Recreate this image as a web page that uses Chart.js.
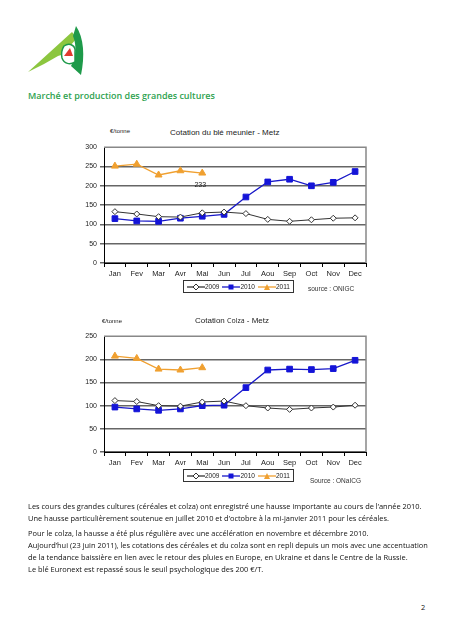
<!DOCTYPE html>
<html lang="fr">
<head>
<meta charset="UTF-8">
<title>Marché et production des grandes cultures</title>
<script src="https://cdn.jsdelivr.net/npm/chart.js"></script>
<style>
  body { margin: 0; width: 453px; height: 640px; background: #fff; position: relative; overflow: hidden; font-family: "Liberation Sans", Arial, sans-serif; }
  .abs { position: absolute; white-space: nowrap; }
  .title { left: 28px; top: 89px; font-family: "Open Sans", sans-serif; font-weight: 600; font-size: 9px; color: #2ea24f; }
  .ctitle { font-size: 8px; color: #222; }
  .unit { font-size: 6px; color: #222; }
  .src { font-size: 6.5px; color: #333; }
  .legend { border: 1px solid #333; height: 11px; font-size: 6.5px; color: #222; display: flex; align-items: center; padding: 0 3px; gap: 3px; }
  .legend span { display: inline-flex; align-items: center; }
  .txt { left: 28px; font-family: "Open Sans", sans-serif; font-size: 7.45px; color: #111; line-height: 12px; }
  .box { position: absolute; left: 60px; width: 320px; height: 142px; }
</style>
</head>
<body>

<!-- logo -->
<svg class="abs" style="left:20px;top:20px" width="70" height="62" viewBox="0 0 70 62">
  <polygon points="8,52 52,12 57,18 50,26 44,34 38,36 24,44" fill="#8cc63f"/>
  <path d="M56,6 C64,18 65,36 61,55 L51,46 C56,38 57,26 53,16 Z" fill="#1e9a4a"/>
  <path d="M44,26 C50,22 56,26 55,32 L55,42 C50,45 44,44 42,38 C41,33 42,29 44,26 Z" fill="#fff" stroke="#1e9a4a" stroke-width="1.5"/>
  <polygon points="44,36 50,28 53,36" fill="#e03a2f"/>
</svg>

<div class="abs title">Marché et production des grandes cultures</div>

<!-- chart 1 -->
<div class="abs unit" style="left:110px;top:128px">€/tonne</div>
<div class="abs ctitle" style="left:170px;top:128px">Cotation du blé meunier  - Metz</div>
<div class="box" style="top:140px"><canvas id="c1"></canvas></div>
<div class="abs legend" style="left:183px;top:280px" id="leg1"></div>
<div class="abs src" style="left:308px;top:285px">source : ONIGC</div>

<!-- chart 2 -->
<div class="abs unit" style="left:102px;top:318px">€/tonne</div>
<div class="abs ctitle" style="left:195px;top:316px">Cotation <span style="font-family:'Open Sans';font-size:7px">Colza</span> - Metz</div>
<div class="box" style="top:329px"><canvas id="c2"></canvas></div>
<div class="abs legend" style="left:183px;top:469px" id="leg2"></div>
<div class="abs src" style="left:310px;top:477px">Source : ONaICG</div>

<div class="abs txt" style="top:500px">Les cours des grandes cultures (céréales et colza) ont enregistré une hausse importante au cours de l’année 2010.<br>Une hausse particulièrement soutenue en juillet 2010 et d’octobre à la mi-janvier 2011 pour les céréales.</div>
<div class="abs txt" style="top:527px">Pour le colza, la hausse a été plus régulière avec une accélération en novembre et décembre 2010.<br>Aujourd’hui (23 juin 2011), les cotations des céréales et du colza sont en repli depuis un mois avec une accentuation<br>de la tendance baissière en lien avec le retour des pluies en Europe, en Ukraine et dans le Centre de la Russie.<br>Le blé Euronext est repassé sous le seuil psychologique des 200 €/T.</div>
<div class="abs txt" style="left:421px;top:601px">2</div>

<script>
const months = ['Jan', 'Fev', 'Mar', 'Avr', 'Mai', 'Jun', 'Jul', 'Aou', 'Sep', 'Oct', 'Nov', 'Dec'];
const seriesNames = ['2009', '2010', '2011'];

// blé meunier
const ble2009 = [133, 127, 120, 119, 130, 132, 128, 113, 108, 112, 116, 117];
const ble2010 = [115, 109, 108, 116, 121, 126, 171, 210, 217, 200, 209, 237];
const ble2011 = [251, 256, 228, 239, 233];
const bleTicks = [0, 50, 100, 150, 200, 250, 300];

// colza
const colza2009 = [111, 109, 100, 99, 108, 110, 100, 95, 92, 95, 97, 101];
const colza2010 = [97, 93, 90, 93, 100, 101, 139, 177, 179, 178, 180, 198];
const colza2011 = [207, 202, 179, 177, 182];
const colzaTicks = [0, 50, 100, 150, 200, 250];

const styles = [
    { color: '#333', fill: '#fff', point: 'rectRot', radius: 3, width: 1 },
    { color: '#1818c8', fill: '#1414d8', point: 'rect', radius: 4, width: 1.3 },
    { color: '#f0a030', fill: '#f0a030', point: 'triangle', radius: 4, width: 1.3 }
];

// top + right border of the plot area in gray
const frame = {
    id: 'frame',
    afterDraw(chart) {
        const a = chart.chartArea, c = chart.ctx;
        c.save();
        c.strokeStyle = '#888';
        c.lineWidth = 1.5;
        c.beginPath();
        c.moveTo(a.left, a.top);
        c.lineTo(a.right, a.top);
        c.lineTo(a.right, a.bottom);
        c.stroke();
        c.restore();
    }
};

// "233" label under last 2011 point (blé only)
const lastLabel = {
    id: 'lastLabel',
    afterDatasetsDraw(chart, args, opts) {
        if (!opts.show) return;
        const meta = chart.getDatasetMeta(2);
        const p = meta.data[meta.data.length - 1];
        const v = chart.data.datasets[2].data[meta.data.length - 1];
        const c = chart.ctx;
        c.save();
        c.font = '7px "Liberation Sans", Arial';
        c.fillStyle = '#222';
        c.textAlign = 'center';
        c.fillText(String(v), p.x - 2, p.y + 14);
        c.restore();
    }
};

function makeChart(id, data, ticks, showLabel) {
    const max = ticks[ticks.length - 1];
    return new Chart(document.getElementById(id), {
        type: 'line',
        data: {
            labels: months,
            datasets: data.map((d, i) => ({
                label: seriesNames[i],
                data: d,
                borderColor: styles[i].color,
                borderWidth: styles[i].width,
                backgroundColor: styles[i].fill,
                pointStyle: styles[i].point,
                pointRadius: styles[i].radius,
                pointBorderColor: i === 0 ? '#333' : styles[i].fill,
                pointBorderWidth: 1,
                tension: 0
            }))
        },
        options: {
            responsive: true,
            maintainAspectRatio: false,
            animation: false,
            layout: { padding: { top: 5, right: 14, left: 0, bottom: 0 } },
            plugins: { legend: { display: false }, tooltip: { enabled: false }, lastLabel: { show: showLabel } },
            scales: {
                x: {
                    offset: true,
                    grid: { drawOnChartArea: false, drawTicks: true, tickLength: 4, color: '#000', offset: true },
                    border: { color: '#000', width: 1 },
                    ticks: { color: '#222', font: { size: 7.5, family: '"Liberation Sans", Arial' }, padding: 2, maxRotation: 0, autoSkip: false },
                    afterFit(s) { s.height = 19; }
                },
                y: {
                    min: 0, max: max,
                    afterBuildTicks(s) { s.ticks = ticks.map(v => ({ value: v })); },
                    grid: { color: ctx => (ctx.tick && ctx.tick.value === max) ? 'rgba(0,0,0,0)' : '#666', lineWidth: 1.5, drawTicks: true, tickLength: 4 },
                    border: { color: '#000', width: 1 },
                    ticks: { color: '#222', font: { size: 7, family: '"Liberation Sans", Arial' }, padding: 3 },
                    afterFit(s) { s.width = 44; }
                }
            }
        },
        plugins: [frame, lastLabel]
    });
}

makeChart('c1', [ble2009, ble2010, ble2011], bleTicks, true);
makeChart('c2', [colza2009, colza2010, colza2011], colzaTicks, false);

// HTML legends
function legendSample(s) {
    let mark;
    if (s.point === 'rectRot') mark = '<polygon points="9,1 12,4 9,7 6,4" fill="#fff" stroke="#333" stroke-width="1"/>';
    else if (s.point === 'rect') mark = '<rect x="6.5" y="1.5" width="5" height="5" fill="' + s.fill + '"/>';
    else mark = '<polygon points="9,1 12,7 6,7" fill="' + s.fill + '"/>';
    return '<svg width="18" height="8"><line x1="0" y1="4" x2="18" y2="4" stroke="' + s.color + '" stroke-width="1.3"/>' + mark + '</svg>';
}
['leg1', 'leg2'].forEach(id => {
    document.getElementById(id).innerHTML = seriesNames.map((n, i) =>
        '<span>' + legendSample(styles[i]) + n + '</span>').join('');
});
</script>
</body>
</html>
